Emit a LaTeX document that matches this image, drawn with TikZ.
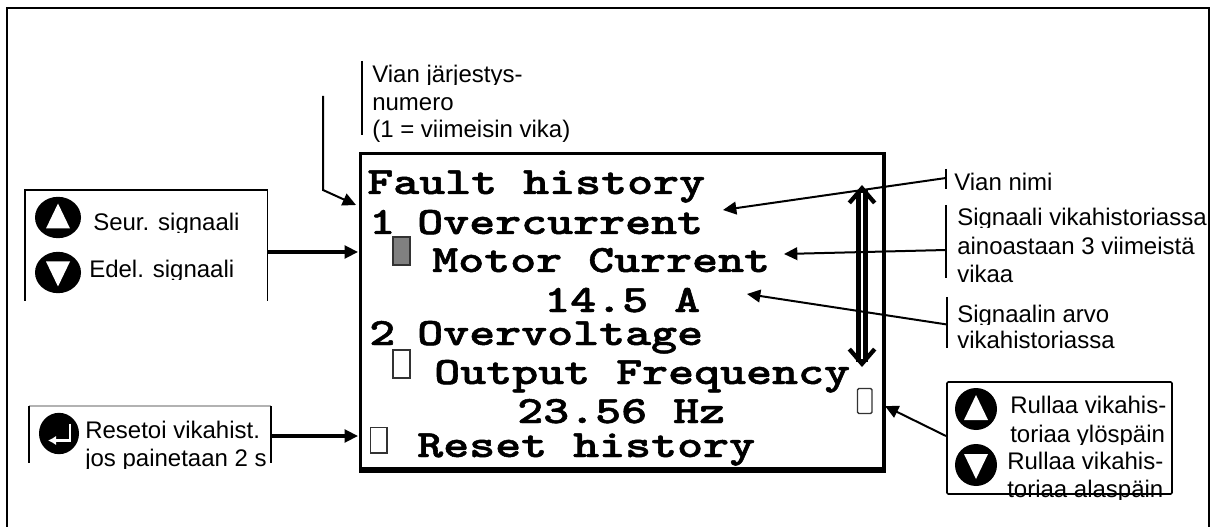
\documentclass[tikz,border=0pt]{standalone}
\usepackage{fontspec}
\usepackage{graphicx}
\setmainfont{Liberation Sans}
\newfontfamily\lcdfont[BoldFeatures={FakeBold=1.2}]{Latin Modern Mono Light}
\usetikzlibrary{calc, arrows.meta, shapes.geometric}

\newcommand{\lcdtext}[1]{\scalebox{1.28}[1]{\lcdfont\bfseries\fontsize{29}{29}\selectfont #1}}
% label line with its descenders cut off
\newcommand{\cutlabel}[4]{\begin{scope}\clip (#2-6,#3-24) rectangle (#2+250,#3+2);
\node[lbl] (#1) at (#2,#3) {#4};\end{scope}}
\newcommand{\upkey}[1]{\fill[white] ($(#1)+(-12,11)$) -- ($(#1)+(12,11)$) -- ($(#1)+(0,-14)$) -- cycle;}
\newcommand{\downkey}[1]{\fill[white] ($(#1)+(-12,-11)$) -- ($(#1)+(12,-11)$) -- ($(#1)+(0,14)$) -- cycle;}

\tikzset{
  lbl/.style={anchor=base west, inner sep=0pt, font=\fontsize{18}{18}\selectfont},
  lcd/.style={anchor=base west, inner sep=0pt},
  keybtn/.style={ellipse, fill=black, inner sep=0pt, minimum width=34.5pt, minimum height=31pt},
  bar/.style={line width=2.1pt},
  thinline/.style={line width=1.2pt},
  lead/.style={line width=1.5pt, -{Triangle[length=10pt,width=9.5pt]}},
  leadthick/.style={line width=2.3pt, -{Triangle[length=10pt,width=9.5pt]}},
  marker/.style={draw=black!80, line width=1.1pt},
}

\begin{document}
\begin{tikzpicture}[x=0.75pt, y=-0.75pt]
\useasboundingbox (0,0) rectangle (1217,527);

% outer frame, open at the bottom
\draw[line width=1.3pt] (7,527) -- (7,8) -- (1209,8) -- (1209,527);

% display
\draw[line width=2.7pt] (360.5,153.5) rectangle (884,470);
\draw[line width=4.4pt] (359,470) -- (886,470);
\node[lcd] (title) at (367,194) {\lcdtext{Fault history}};
\node[lcd] (numa) at (369,234) {\lcdtext{1}};
\node[lcd] (namea) at (417,234) {\lcdtext{Overcurrent}};
\node[lcd] (siga) at (432,272) {\lcdtext{Motor Current}};
\node[lcd] (vala) at (544,312) {\lcdtext{14.5 A}};
\node[lcd] (numb) at (369,345) {\lcdtext{2}};
\node[lcd] (nameb) at (417,345) {\lcdtext{Overvoltage}};
\node[lcd] (sigb) at (434,384) {\lcdtext{Output Frequency}};
\node[lcd] (valb) at (517,423) {\lcdtext{23.56 Hz}};
\node[lcd] (reset) at (417,457) {\lcdtext{Reset history}};

% cursors
\draw[marker, fill=black!50] (393,237) rectangle (410,265);
\draw[marker, line width=1.6pt] (393,350) rectangle (410,378);
\draw[marker] (370.5,427.5) rectangle (387,453);
\draw[marker, rounded corners=1pt] (857.5,388.5) rectangle (872,413.5);

% scroll arrow
\coordinate (scrolltop) at (862,185);
\coordinate (scrollbot) at (862,367);
\draw[line width=9.4pt, {Straight Barb[line width=3.2pt,length=11pt,width=19pt]}-{Straight Barb[line width=3.2pt,length=11pt,width=19pt]}] (scrolltop) -- (scrollbot);
\draw[white, line width=1.1pt] ($(scrolltop)+(0,8)$) -- ($(scrollbot)+(0,-8)$);

% top label
\draw[bar] (362,61) -- (362,135);
\cutlabel{jarj}{372}{83}{Vian järjestys-}
\node[lbl] (jarjb) at (372,111) {numero};
\node[lbl] (jarjc) at (372,138) {(1 = viimeisin vika)};
\coordinate (jarjstart) at (323,96);
\coordinate (jarjbend) at (323,190);
\coordinate (jarjtip) at (356,205);
\draw[lead] (jarjstart) -- (jarjbend) -- (jarjtip);

% signal keys
\draw[thinline] (25,301) -- (25,190) -- (267.5,190) -- (267.5,301);
\node[keybtn] (keynext) at (58,217.5) {};
\upkey{keynext}
\node[keybtn] (keyprev) at (58,272.5) {};
\downkey{keyprev}
\cutlabel{next}{93}{231}{Seur. signaali}
\cutlabel{prev}{89}{278}{Edel. signaali}
\coordinate (keyout) at (267.5,252);
\coordinate (keytip) at (358,252);
\draw[leadthick] (keyout) -- (keytip);

% reset key
\draw[black!30, line width=0.8pt] (29,406) -- (271,406);
\draw[thinline] (29,406) -- (29,463);
\draw[line width=1.5pt] (271,406) -- (271,463);
\node[keybtn, minimum width=30pt] (keyenter) at (59,433.5) {};
\draw[white, line width=1.6pt, -{Latex[length=6pt,width=7pt]}] ($(keyenter)+(11,-10)$) -- ($(keyenter)+(11,7)$) -- ($(keyenter)+(-11,7)$);
\node[lbl] (resa) at (85,438) {Resetoi vikahist.};
\cutlabel{resb}{85}{466}{jos painetaan 2 s}
\coordinate (resout) at (271,436);
\coordinate (restip) at (358,436);
\draw[leadthick] (resout) -- (restip);

% right labels
\draw[bar] (946,169) -- (946,189);
\node[lbl] (nimi) at (954,191) {Vian nimi};
\coordinate (nimiout) at (946,178);
\coordinate (nimitip) at (723,210);
\draw[lead] (nimiout) -- (nimitip);

\draw[bar] (946,205) -- (946,278);
\cutlabel{sigtxa}{957}{226}{Signaali vikahistoriassa}
\node[lbl] (sigtxb) at (957,255) {ainoastaan 3 viimeistä};
\node[lbl] (sigtxc) at (957,282) {vikaa};
\coordinate (sigout) at (946,250);
\coordinate (sigtip) at (784,254);
\draw[lead] (sigout) -- (sigtip);

\draw[bar] (947,297) -- (947,348);
\cutlabel{arvoa}{957}{322}{Signaalin arvo}
\node[lbl] (arvob) at (957,349) {vikahistoriassa};
\coordinate (arvoout) at (947,324.5);
\coordinate (arvotip) at (747,294);
\draw[lead] (arvoout) -- (arvotip);

% scroll keys
\draw[thinline, rounded corners=1pt] (947,382) rectangle (1172,494);
\node[keybtn, minimum width=31.5pt, minimum height=31.5pt] (keyup) at (976,409) {};
\upkey{keyup}
\node[keybtn, minimum width=31.5pt, minimum height=31.5pt] (keydown) at (976,465) {};
\downkey{keydown}
\node[lbl] (upa) at (1010,413) {Rullaa vikahis-};
\cutlabel{upb}{1010}{442}{toriaa ylöspäin}
\node[lbl] (downa) at (1007,469) {Rullaa vikahis-};
\cutlabel{downb}{1007}{497}{toriaa alaspäin}
\coordinate (scrollout) at (946,436);
\coordinate (scrolltip) at (885,406);
\draw[lead] (scrollout) -- (scrolltip);
\end{tikzpicture}
\end{document}
